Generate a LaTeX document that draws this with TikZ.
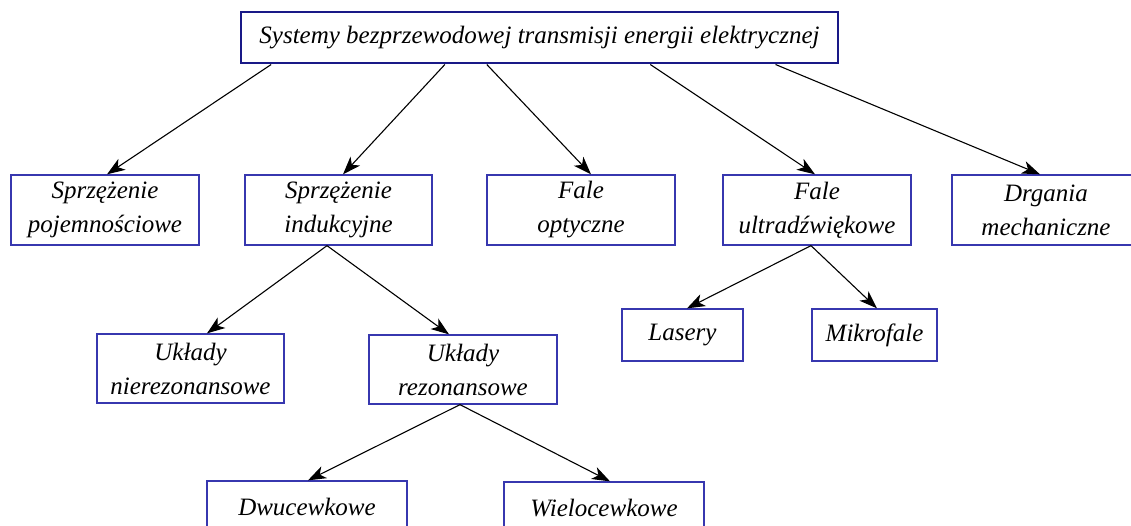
\documentclass[tikz,border=0pt]{standalone}
\usepackage{fontspec}
\setmainfont{Liberation Serif}
\usetikzlibrary{calc,arrows.meta}
\definecolor{boxblue}{RGB}{55,55,175}
\definecolor{topblue}{RGB}{25,25,135}
\tikzset{
  box/.style={draw=boxblue, line width=1.3pt, fill=white, inner sep=0pt, align=center,
    font=\fontsize{25}{34}\selectfont\itshape},
  onebox/.style={box, minimum height=52pt},
  twobox/.style={box, minimum height=70pt, minimum width=188pt},
  arr/.style={-{Stealth[length=18pt,width=13pt,inset=5pt]}, line width=1.1pt},
}
\begin{document}
\begin{tikzpicture}[x=1pt,y=-1pt]
\clip (0,0) rectangle (1131,526);
\node[onebox, draw=topblue, line width=2pt, minimum width=597pt, minimum height=51pt] (sys) at (539.5,38) {Systemy bezprzewodowej transmisji energii elektrycznej};

\node[twobox] (poj) at (105,210) {Sprzężenie\\pojemnościowe};
\node[twobox, minimum width=187pt] (ind) at (338.5,210) {Sprzężenie\\indukcyjne};
\node[twobox] (opt) at (581,210) {Fale\\optyczne};
\node[twobox] (ultra) at (817,210) {Fale\\ultradźwiękowe};
\node[twobox] (drg) at (1046,210) {Drgania\\mechaniczne};

\node[twobox, minimum width=187pt, minimum height=69pt] (nrez) at (190.5,368.5) {Układy\\nierezonansowe};
\node[twobox, minimum height=69pt] (rez) at (463,369.5) {Układy\\rezonansowe};
\node[onebox, minimum width=121pt] (las) at (682.5,335) {Lasery};
\node[onebox, minimum width=125pt] (mik) at (874.5,335) {Mikrofale};

\node[onebox, minimum width=200pt] (dwu) at (307,507) {Dwucewkowe};
\node[onebox, minimum width=200pt] (wiel) at (604,508) {Wielocewkowe};

\draw[arr] ($(sys.south west)!0.052!(sys.south east)$) -- ([xshift=2pt]poj.north);
\draw[arr] ($(sys.south west)!0.342!(sys.south east)$) -- ([xshift=4.5pt]ind.north);
\draw[arr] ($(sys.south west)!0.412!(sys.south east)$) -- ([xshift=10pt]opt.north);
\draw[arr] ($(sys.south west)!0.685!(sys.south east)$) -- ([xshift=-2pt]ultra.north);
\draw[arr] ($(sys.south west)!0.894!(sys.south east)$) -- ([xshift=-6pt]drg.north);

\draw[arr] ([xshift=-11.5pt]ind.south) -- ([xshift=16.5pt]nrez.north);
\draw[arr] ([xshift=-11.5pt]ind.south) -- ([xshift=-14pt]rez.north);
\draw[arr] ([xshift=-3pt]rez.south) -- ([xshift=1pt]dwu.north);
\draw[arr] ([xshift=-3pt]rez.south) -- ([xshift=6pt]wiel.north);
\draw[arr] ([xshift=-6pt]ultra.south) -- ([xshift=4.5pt]las.north);
\draw[arr] ([xshift=-6pt]ultra.south) -- ([xshift=2.5pt]mik.north);
\end{tikzpicture}
\end{document}
